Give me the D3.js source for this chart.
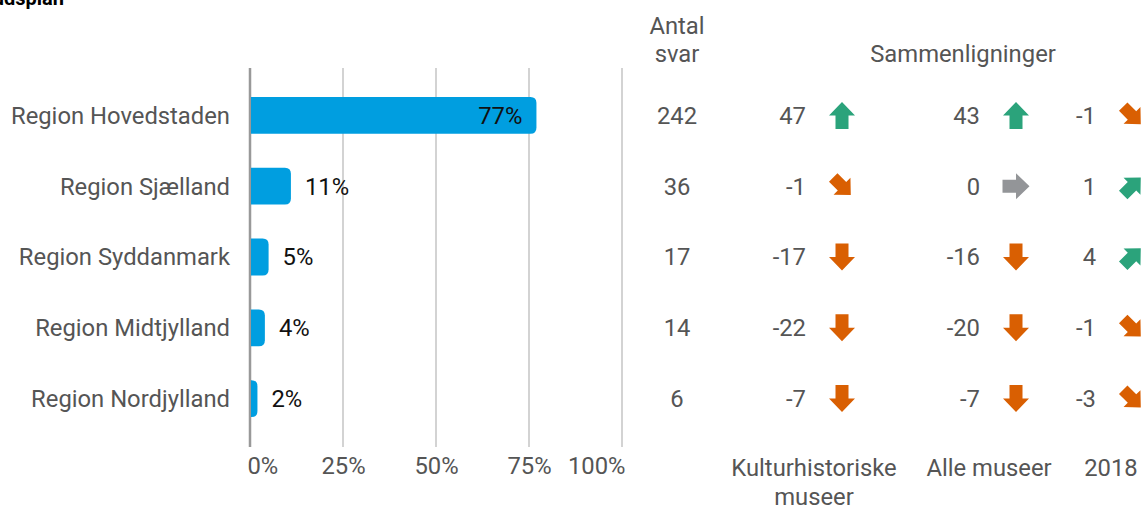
<!DOCTYPE html>
<html><head><meta charset="utf-8">
<script src="https://cdn.jsdelivr.net/npm/d3@7"></script>
<style>
body{margin:0;background:#fff;}
svg{display:block;font-family:Roboto,"Noto Sans",sans-serif;}
</style></head>
<body><svg id="c" width="1143" height="509"></svg>
<script>
const regions = ["Region Hovedstaden","Region Sjælland","Region Syddanmark","Region Midtjylland","Region Nordjylland"];
const shares = [0.77,0.11,0.05,0.04,0.02];
const shareLabels = ["77%","11%","5%","4%","2%"];
const antalSvar = [242,36,17,14,6];
const cmpKultur = [47,-1,-17,-22,-7];
const cmpAlle = [43,0,-16,-20,-7];
const cmp2018 = [-1,1,4,-1,-3];
const xTicks = [0,0.25,0.5,0.75,1];
const xTickLabels = ["0%","25%","50%","75%","100%"];
const compareNames = [["Kulturhistoriske","museer"],["Alle museer"],["2018"]];
const titleText = "udsplan";

const FS = 23.8;
const svg = d3.select("#c");
const x = d3.scaleLinear().domain([0,1]).range([250,622]);
const y = d3.scaleBand().domain(regions).range([80,434]).paddingInner(0.48).paddingOuter(0.24);
const textCol = "#555";

// title (cut off at top)
svg.append("text").attr("x",64).attr("y",5).attr("text-anchor","end")
  .attr("font-weight","bold").attr("font-size",20).attr("fill","#000").text(titleText);

// grid
svg.append("g").selectAll("line").data(xTicks).join("line")
  .attr("x1",d=>x(d)).attr("x2",d=>x(d)).attr("y1",68).attr("y2",447)
  .attr("stroke",d=>d===0?"#999":"#c4c4c4").attr("stroke-width",d=>d===0?2.5:1.5);

// x axis labels
const ax = svg.append("g").attr("transform","translate(0,447)")
  .call(d3.axisBottom(x).tickValues(xTicks).tickFormat((d,i)=>xTickLabels[i]).tickSize(0).tickPadding(10));
ax.select(".domain").remove();
ax.selectAll("text").attr("font-size",FS).attr("fill",textCol).attr("font-family","Roboto")
  .attr("text-anchor",(d,i)=>i===0?"start":(i===xTicks.length-1?"end":"middle"))
  .attr("dx",(d,i)=>i===0?-3:(i===xTicks.length-1?3:0));

// region labels
svg.append("g").selectAll("text").data(regions).join("text")
  .attr("x",230).attr("y",d=>y(d)+y.bandwidth()/2).attr("dy","0.35em")
  .attr("text-anchor","end").attr("font-size",FS).attr("fill",textCol).text(d=>d);

// bars with right rounded corners
const r = 6;
function barPath(x0,x1,y0,h){
  const w = x1-x0; const rr = Math.min(r,w);
  return `M${x0},${y0}H${x1-rr}Q${x1},${y0} ${x1},${y0+rr}V${y0+h-rr}Q${x1},${y0+h} ${x1-rr},${y0+h}H${x0}Z`;
}
svg.append("g").selectAll("path").data(regions).join("path")
  .attr("d",(d,i)=>barPath(x(0)+1,x(shares[i]),y(d),y.bandwidth()))
  .attr("fill","#009ee0");

// value labels
svg.append("g").selectAll("text").data(regions).join("text")
  .attr("x",(d,i)=>shares[i]>0.3 ? x(shares[i])-14 : x(shares[i])+14)
  .attr("text-anchor",(d,i)=>shares[i]>0.3?"end":"start")
  .attr("y",d=>y(d)+y.bandwidth()/2).attr("dy","0.35em")
  .attr("font-size",FS).attr("fill","#111").text((d,i)=>shareLabels[i]);

// headers
const hdr = svg.append("g").attr("font-size",FS).attr("fill",textCol).attr("text-anchor","middle");
hdr.append("text").attr("x",677).attr("y",34).text("Antal");
hdr.append("text").attr("x",677).attr("y",62).text("svar");
hdr.append("text").attr("x",963).attr("y",62).text("Sammenligninger");

// antal svar
svg.append("g").selectAll("text").data(regions).join("text")
  .attr("x",677).attr("y",d=>y(d)+y.bandwidth()/2).attr("dy","0.35em")
  .attr("text-anchor","middle").attr("font-size",FS).attr("fill",textCol).text((d,i)=>antalSvar[i]);

// comparison columns
const cols = [
  {vals:cmpKultur, numX:806, arrX:842, labX:814},
  {vals:cmpAlle, numX:980, arrX:1016, labX:989},
  {vals:cmp2018, numX:1096, arrX:1132, labX:1111}
];
const arrowPath = "M0,-13.5L13,0L6.5,0L6.5,13.5L-6.5,13.5L-6.5,0L-13,0Z";
function arrowSpec(v){
  if(v===0) return {rot:90,col:"#939598",diag:false};
  if(v>=5) return {rot:0,col:"#2ba37b",diag:false};
  if(v<=-5) return {rot:180,col:"#d95f02",diag:false};
  if(v>0) return {rot:45,col:"#2ba37b",diag:true};
  return {rot:135,col:"#d95f02",diag:true};
}
cols.forEach((c,ci)=>{
  const g = svg.append("g");
  g.selectAll("text.num").data(regions).join("text").attr("class","num")
    .attr("x",c.numX).attr("y",d=>y(d)+y.bandwidth()/2).attr("dy","0.35em")
    .attr("text-anchor","end").attr("font-size",FS).attr("fill",textCol).text((d,i)=>c.vals[i]);
  g.selectAll("path").data(regions).join("path")
    .attr("d",arrowPath)
    .attr("fill",(d,i)=>arrowSpec(c.vals[i]).col)
    .attr("transform",(d,i)=>{
      const s = arrowSpec(c.vals[i]);
      const cy = y(d)+y.bandwidth()/2;
      return `translate(${c.arrX},${cy}) rotate(${s.rot}) scale(${s.diag?0.92:1})`;
    });
  const lab = svg.append("g").attr("font-size",FS).attr("fill",textCol).attr("text-anchor","middle");
  compareNames[ci].forEach((t,k)=>lab.append("text").attr("x",c.labX).attr("y",476+k*29).text(t));
});
</script></body></html>
